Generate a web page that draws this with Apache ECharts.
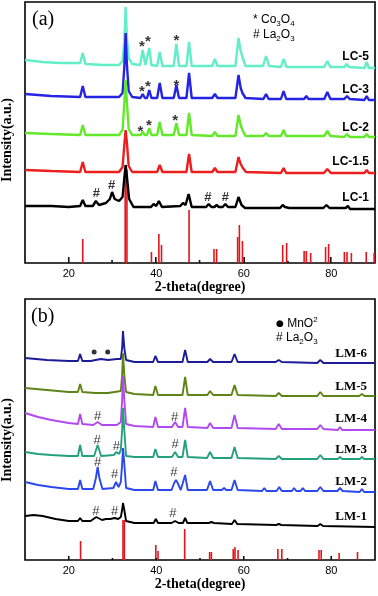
<!DOCTYPE html>
<html><head><meta charset="utf-8">
<script src="https://cdn.jsdelivr.net/npm/echarts/dist/echarts.min.js"></script>
<style>html,body{margin:0;padding:0;background:#fff}#c{width:378px;height:596px}</style>
</head><body><div id="c"></div>
<script>
// ---------- axis ----------
const xTickLabels = [20, 40, 60, 80];

// ---------- panel (a): LaCoO3 series, [2theta, intensity(a.u.)] ----------
const lc5 = [[10,203],[14,201],[18,200],[22.6,200],[23.2,210],[23.8,199],[28,198],[31.5,198],[32.3,202],[32.7,222],[33.0,256],[33.3,225],[33.7,205],[34.5,199],[36.3,198],[36.9,213],[37.5,198],[37.9,198],[38.4,215],[38.9,198],[40.2,197],[40.8,211],[41.4,197],[44.0,197],[44.6,219],[45.2,197],[46.9,197],[47.5,221],[48.1,197],[52.8,197],[53.4,204],[54.0,197],[58.1,197],[58.8,225],[59.3,212],[59.7,206],[60.4,197],[64.4,197],[65.1,207],[65.8,197],[68.5,196],[69.1,204],[69.8,196],[78.4,196],[79.1,202],[79.8,196],[83.0,196],[83.5,199],[84.0,196],[87.6,195],[88.1,201],[88.6,195],[90,195]];
const lc3 = [[10,169],[16,167],[22.6,166],[23.2,177],[23.8,166],[31.5,166],[32.3,170],[32.7,196],[33.0,230],[33.3,198],[33.7,172],[34.5,166],[36.4,165],[36.9,169],[37.4,165],[37.9,165],[38.4,173],[38.9,165],[40.2,165],[40.8,180],[41.4,165],[44.0,165],[44.6,178],[45.2,165],[46.9,165],[47.5,190],[48.1,165],[52.8,165],[53.4,169],[54.0,165],[58.1,165],[58.8,188],[59.3,175],[59.7,170],[60.4,165],[64.5,164],[65.1,169],[65.7,164],[68.5,164],[69.1,172],[69.7,164],[73.8,164],[74.3,167],[74.8,164],[78.4,164],[79.1,171],[79.8,164],[83.0,164],[83.6,167],[84.2,164],[87.6,163],[88.1,167],[88.6,163],[90,163]];
const lc2 = [[10,130],[16,129],[22.6,128],[23.2,138],[23.8,128],[31.5,128],[32.3,133],[32.7,160],[33.0,183],[33.3,160],[33.7,134],[34.5,128],[36.4,128],[36.9,131],[37.4,128],[37.9,128],[38.4,135],[38.9,128],[40.2,128],[40.8,141],[41.4,128],[44.0,128],[44.6,140],[45.2,128],[46.9,128],[47.5,150],[48.1,128],[52.8,127],[53.4,131],[54.0,127],[58.1,127],[58.8,148],[59.3,138],[59.7,133],[60.4,127],[64.5,127],[65.1,130],[65.7,127],[68.5,127],[69.1,133],[69.7,127],[78.4,127],[79.1,132],[79.8,127],[83.0,126],[83.6,129],[84.2,126],[87.6,126],[88.1,129],[88.6,126],[90,126]];
const lc15 = [[10,93],[16,92],[22.6,91],[23.2,101],[23.8,91],[31.5,91],[32.3,96],[32.7,118],[33.0,133],[33.3,120],[33.7,97],[34.5,91],[40.2,91],[40.8,98],[41.4,91],[46.9,91],[47.5,109],[48.1,91],[52.8,91],[53.4,95],[54.0,91],[58.1,91],[58.8,106],[59.3,99],[59.8,95],[60.5,91],[68.5,90],[69.1,95],[69.7,90],[78.3,90],[79.1,94],[79.9,90],[87.6,90],[88.1,93],[88.6,90],[90,90]];
const lc1 = [[10,57],[16,57],[20,56],[22.6,57],[23.2,63],[23.8,57],[25.5,57],[26.2,62],[26.9,58],[28.5,60],[29.4,64],[29.9,71],[30.5,64],[31.5,62],[32.3,66],[32.7,85],[33.0,98],[33.3,86],[33.8,64],[34.8,56],[38.8,56],[39.4,59],[40.0,57],[40.6,62],[41.3,56],[45.5,57],[46.1,60],[46.7,58],[47.4,69],[48.1,56],[51.4,56],[52.0,59],[52.6,56],[53.3,56],[53.8,58],[54.3,56],[55.2,56],[55.8,59],[56.4,56],[58.1,56],[58.8,66],[59.5,58],[60.3,55],[68.3,55],[68.9,58],[69.4,56],[69.8,57],[70.4,55],[78.2,55],[78.9,58],[79.6,55],[83.3,55],[83.8,57],[84.3,54],[90,54]];
const refARed = [[23.2,24],[32.9,93],[33.3,93],[38.9,11],[40.6,29],[41.2,18],[47.5,53],[53.2,14],[53.8,14],[58.6,26],[59.0,38],[59.7,22],[68.9,18],[69.8,20],[73.8,12],[74.3,12],[75.3,10],[78.7,16],[79.4,19],[83.0,11],[83.6,11],[84.6,10],[88.0,11],[89.8,10]];
const refABlack = [[20.0,6],[29.9,3],[39.9,6],[49.9,3],[60.1,6],[70.1,2],[79.9,6]];
const starsA = [[36.7,220],[38.1,225],[44.6,226],[36.7,175],[38.1,180],[44.6,181],[36.4,135],[38.3,141],[44.3,146]];
const hashA = [[26.3,70],[29.8,78],[51.8,66],[55.8,66]];

// ---------- panel (b): LaMnO3 series ----------
const lm6 = [[10,202],[15,200],[20,199],[22.1,199],[22.6,206],[23.1,199],[25,199],[27.3,201],[29,200],[31,201],[31.9,201],[32.2,212],[32.4,229],[32.7,212],[33.1,200],[35,198],[39.3,198],[39.8,204],[40.4,198],[46.0,198],[46.6,210],[47.2,198],[51.7,198],[52.3,201],[53,198],[57.2,198],[57.9,206],[58.6,198],[67.3,198],[68.0,200],[68.7,198],[76.8,197],[77.5,200],[78.2,197],[90,197]];
const lm5 = [[10,172],[15,170],[20,168],[22.1,168],[22.6,176],[23.1,168],[26,167],[29,167],[31.9,169],[32.2,185],[32.4,207],[32.7,185],[33.1,168],[35,166],[39.3,165],[39.8,174],[40.4,165],[46.0,165],[46.6,183],[47.2,165],[51.7,165],[52.3,169],[53,165],[57.2,165],[57.9,175],[58.6,165],[67.3,164],[68.0,167],[68.7,164],[76.8,164],[77.5,168],[78.2,164],[86.4,164],[87.0,166],[87.6,164],[90,164]];
const lm4 = [[10,147],[13,143],[16,140],[20,137],[22.1,136],[22.6,146],[23.1,136],[25.6,135],[26.6,138],[27.6,135],[31,135],[31.9,138],[32.2,160],[32.4,184],[32.7,160],[33.1,136],[35,134],[39.3,133],[39.8,143],[40.4,133],[43.6,133],[44.3,138],[45.0,133],[46.0,133],[46.6,152],[47.2,133],[51.7,132],[52.3,137],[53,132],[57.2,132],[57.9,145],[58.6,132],[67.3,131],[68.0,136],[68.7,131],[76.8,131],[77.5,135],[78.2,131],[81.5,130],[82.0,133],[82.5,130],[90,130]];
const lm3 = [[10,108],[13,106],[16,105],[20,104],[22.1,104],[22.6,115],[23.1,104],[25.8,104],[26.6,115],[27.4,104],[30.3,105],[30.9,108],[31.5,106],[31.9,110],[32.2,130],[32.4,152],[32.7,130],[33.1,104],[35,103],[39.3,103],[39.8,111],[40.4,103],[43.6,103],[44.3,108],[45.0,103],[46.0,103],[46.6,120],[47.2,103],[51.6,102],[52.3,108],[53,102],[57.2,102],[57.9,113],[58.6,102],[67.3,101],[68.0,104],[68.7,101],[76.8,101],[77.5,105],[78.2,101],[81.5,101],[82.0,103],[82.5,101],[86.5,101],[87.0,103],[87.5,101],[90,101]];
const lm2 = [[10,78],[13,75],[16,73],[20,71],[22.1,71],[22.6,80],[23.1,71],[25.6,71],[26.2,82],[26.6,93],[27.0,82],[27.7,71],[30.2,72],[30.8,78],[31.4,73],[31.9,78],[32.2,96],[32.4,112],[32.7,96],[33.1,72],[35,70],[39.3,70],[39.8,79],[40.4,70],[43.5,70],[44.1,77],[44.5,80],[44.9,77],[45.6,70],[46.0,70],[46.6,85],[47.2,70],[51.6,70],[52.3,79],[53.0,70],[55.0,70],[55.5,72],[56.0,70],[57.2,70],[57.9,80],[58.6,70],[64.2,69],[64.7,72],[65.2,69],[67.5,69],[68.1,73],[68.7,69],[71.0,69],[71.5,72],[72.0,69],[73.0,69],[73.5,72],[74.0,69],[76.8,69],[77.5,73],[78.2,69],[81.4,69],[82.0,72],[82.6,69],[86.5,68],[87.0,71],[87.5,68],[90,68]];
const lm1 = [[10,44],[12,45],[14,44],[17,41],[20,39],[22.1,39],[22.6,42],[23.1,39],[25.0,39],[26.3,43],[27.6,40],[28.5,41],[29.5,41],[30.5,42],[31.3,41],[31.9,43],[32.2,50],[32.4,57],[32.7,50],[33.1,39],[35,37],[39.4,37],[39.9,41],[40.4,37],[43.5,37],[44.3,39],[45.1,37],[46.1,37],[46.6,42],[47.1,37],[52.0,37],[52.6,38],[53.2,37],[57.3,36],[57.9,40],[58.5,36],[67.4,35],[68.0,36],[68.6,35],[76.9,34],[77.5,36],[78.1,34],[90,33]];
const refBRed = [[22.7,19],[32.4,40],[32.7,40],[39.9,15],[40.4,9],[46.5,31],[52.2,8],[52.6,8],[57.6,11],[58.0,13],[58.7,10],[67.8,11],[68.7,11],[77.2,10],[77.7,10],[81.8,7],[86.0,8]];
const refBBlack = [[20.0,4],[30.0,2],[40.0,2],[50.0,2],[60.0,4],[70.0,2],[80.0,4]];
const hashB = [[26.6,144],[44.2,143],[26.5,120],[30.9,114],[44.3,116],[26.6,98],[30.5,86],[44.0,88],[26.2,49],[30.5,49],[43.8,47]];
const dotsB = [[25.8,208],[28.9,208]];

const namesA = ['LC-5','LC-3','LC-2','LC-1.5','LC-1'];
const dataA = [lc5, lc3, lc2, lc15, lc1];
const colorsA = ['#62eec6','#2424e2','#62ea2a','#ec1e1e','#000000'];
const labelYA = [57, 90, 128, 162, 198];
const namesB = ['LM-6','LM-5','LM-4','LM-3','LM-2','LM-1'];
const dataB = [lm6, lm5, lm4, lm3, lm2, lm1];
const colorsB = ['#1c1c98','#5e8418','#b04af0','#24a07a','#2a48ee','#000000'];
const labelYB = [354, 387, 419, 450, 482, 517];

const chart = echarts.init(document.getElementById('c'));
const series = [];
function bars(red, black, gi) {
  return {type:'bar', xAxisIndex:gi, yAxisIndex:gi, barWidth:1.6, z:1, silent:true,
    data: red.map(p => ({value:p, itemStyle:{color:'#e2141c'}}))
      .concat(black.map(p => ({value:p, itemStyle:{color:'#111'}})))};
}
series.push(bars(refARed, refABlack, 0));
series.push(bars(refBRed, refBBlack, 1));
dataA.forEach((d, i) => series.push({type:'line', name:namesA[i], data:d, xAxisIndex:0, yAxisIndex:0, symbol:'none', z:3+i,
  lineStyle:{color:colorsA[i], width:2.4}, itemStyle:{color:colorsA[i]}}));
dataB.forEach((d, i) => series.push({type:'line', name:namesB[i], data:d, xAxisIndex:1, yAxisIndex:1, symbol:'none', z:3+i,
  lineStyle:{color:colorsB[i], width:1.9}, itemStyle:{color:colorsB[i]}}));
function marks(arr, txt, gi, off, size, weight) {
  return {type:'scatter', xAxisIndex:gi, yAxisIndex:gi, data:arr, symbolSize:0, z:20,
    label:{show:true, position:'inside', formatter:txt, color:'#000', fontSize:size, fontWeight:weight, fontFamily:'Liberation Sans', offset:off}};
}
series.push(marks(starsA, '*', 0, [0, 4], 15, 'bold'));
series.push(marks(hashA, '#', 0, [0, 0], 13, 'bold'));
series.push(marks(hashB, '#', 1, [0, 0], 13, 'normal'));
series.push({type:'scatter', xAxisIndex:1, yAxisIndex:1, data:dotsB, symbol:'circle', symbolSize:5, itemStyle:{color:'#000'}, z:20});

function xAx(gi) {
  return {gridIndex:gi, type:'value', min:10, max:90, interval:10,
    axisLine:{show:false}, axisTick:{show:false}, splitLine:{show:false},
    axisLabel:{color:'#000', fontSize:11, fontFamily:'Liberation Sans', margin:5,
      formatter: v => xTickLabels.includes(v) ? String(v) : ''},
    name:'2-theta(degree)', nameLocation:'middle', nameGap:17,
    nameTextStyle:{color:'#000', fontFamily:'Liberation Serif', fontWeight:'bold', fontSize:14}};
}
function yAx(gi) { return {gridIndex:gi, type:'value', min:0, max:261, show:false}; }

const rich = {
  n:{fontSize:12, fontFamily:'Liberation Sans', lineHeight:16, color:'#000'},
  s:{fontSize:8, fontFamily:'Liberation Sans', lineHeight:8, verticalAlign:'bottom', color:'#000'},
  u:{fontSize:8, fontFamily:'Liberation Sans', lineHeight:10, verticalAlign:'top', color:'#000'},
  d:{fontSize:9, fontFamily:'DejaVu Sans', lineHeight:16, color:'#000'}
};
const graphics = [];
function txt(x, y, t, font, align, rot) {
  graphics.push({type:'text', x, y, rotation:rot || 0, z:50,
    style:{text:t, font, fill:'#000', align:align||'left', verticalAlign:'middle', textAlign:align||'left', textVerticalAlign:'middle'}});
}
namesA.forEach((n, i) => txt(369, labelYA[i], n, 'bold 12px "Liberation Sans"', 'right'));
namesB.forEach((n, i) => txt(367, labelYB[i], n, 'bold 13px "Liberation Serif"', 'right'));
txt(32, 20, '(a)', '20px "Liberation Serif"');
txt(31, 317, '(b)', '20px "Liberation Serif"');
txt(7, 140, 'Intensity(a.u.)', 'bold 14px "Liberation Serif"', 'center', Math.PI/2);
txt(7, 440, 'Intensity(a.u.)', 'bold 14px "Liberation Serif"', 'center', Math.PI/2);
function richTxt(x, y, t) {
  graphics.push({type:'text', x, y, z:50, style:{text:t, rich, fill:'#000', align:'left', verticalAlign:'middle', textVerticalAlign:'middle'}});
}
richTxt(253, 20, '{n|* Co}{s|3}{n|O}{s|4}');
richTxt(253, 35, '{n|# La}{s|2}{n|O}{s|3}');
richTxt(276, 324, '{d|●}{n| MnO}{u|2}');
richTxt(276, 338, '{n|# La}{s|2}{n|O}{s|3}');

chart.setOption({
  animation:false,
  backgroundColor:'#fff',
  grid:[{left:25, top:2, width:351, height:261, show:true, borderColor:'#000', borderWidth:1.6},
        {left:25, top:299, width:351, height:261, show:true, borderColor:'#000', borderWidth:1.6}],
  xAxis:[xAx(0), xAx(1)],
  yAxis:[yAx(0), yAx(1)],
  series,
  graphic: graphics
});
</script></body></html>
